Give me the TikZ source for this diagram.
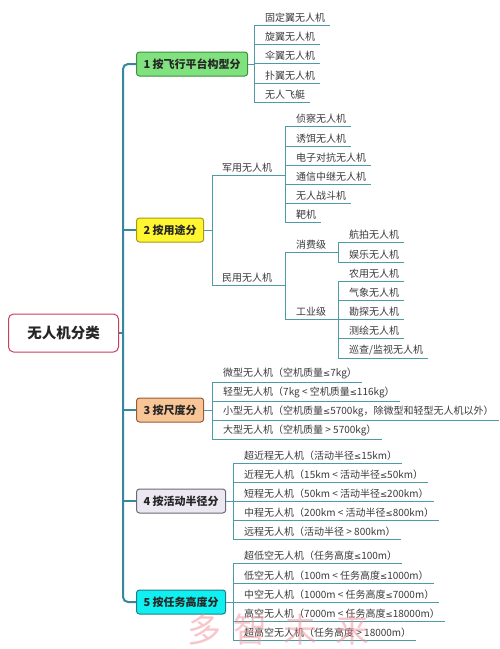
\documentclass[tikz,border=0pt]{standalone}
\usepackage{fontspec}
\setmainfont{Noto Sans CJK SC}
\newfontfamily\symf{DejaVu Sans}[Scale=0.85]
\newcommand{\lesym}{{\symf ≤}}
\definecolor{trunkc}{HTML}{35899A}
\definecolor{leafc}{HTML}{4E9BA6}
\definecolor{txtc}{HTML}{3A3A3A}
\definecolor{rootb}{HTML}{C8405C}
\definecolor{g1f}{HTML}{80E27E}\definecolor{g1b}{HTML}{3E8E3E}
\definecolor{y2f}{HTML}{FFF530}\definecolor{y2b}{HTML}{A89A10}
\definecolor{o3f}{HTML}{F8C596}\definecolor{o3b}{HTML}{9A5A38}
\definecolor{l4f}{HTML}{ECE8F2}\definecolor{l4b}{HTML}{6E6878}
\definecolor{c5f}{HTML}{10F0F0}\definecolor{c5b}{HTML}{1E7E86}
\definecolor{wmark}{HTML}{F08C96}
\tikzset{
  catbox/.style={draw, rounded corners=3pt, line width=1pt, anchor=west,
    minimum height=24pt, inner xsep=7pt, inner ysep=2pt, text=black!85,
    font=\fontsize{11}{13}\selectfont\bfseries},
  leaf/.style={anchor=south west, inner xsep=0pt, inner ysep=2.5pt, text=txtc,
    font=\fontsize{10}{12}\selectfont},
  conn/.style={draw=leafc, line width=0.95pt},
  trunkline/.style={draw=trunkc, line width=2pt, rounded corners=5pt},
}
\newcommand{\leafnode}[4]{\node[leaf] (#1) at (#2,#3) {\hspace*{11pt}#4\hspace*{5pt}};
  \draw[conn] (#1.south west) -- (#1.south east);}
\begin{document}
\begin{tikzpicture}[x=1pt,y=-1pt]
\useasboundingbox[fill=white] (0,0) rectangle (500,649);

% root
\node[draw=rootb, line width=1pt, rounded corners=5pt, fill=white, anchor=west,
  minimum width=110pt, minimum height=38pt, text=black!85,
  font=\fontsize{14.5}{16}\selectfont\bfseries] (root) at (8,333) {无人机分类};

% categories
\node[catbox, fill=g1f, draw=g1b] (c1) at (136,64) {1 按飞行平台构型分};
\node[catbox, fill=y2f, draw=y2b] (c2) at (136,230) {2 按用途分};
\node[catbox, fill=o3f, draw=o3b] (c3) at (136,410) {3 按尺度分};
\node[catbox, fill=l4f, draw=l4b] (c4) at (136,501) {4 按活动半径分};
\node[catbox, fill=c5f, draw=c5b] (c5) at (136,602) {5 按任务高度分};

% trunk
\coordinate (tr) at (123,333);
\draw[trunkline] (c1.west) -| (tr) |- (c5.west);
\draw[trunkline] (root.east) -- (tr);
\draw[trunkline] (c2.west) -- (c2.west -| tr);
\draw[trunkline] (c3.west) -- (c3.west -| tr);
\draw[trunkline] (c4.west) -- (c4.west -| tr);

% category 1
\leafnode{a1}{254}{25}{固定翼无人机}
\leafnode{a2}{254}{44}{旋翼无人机}
\leafnode{a3}{254}{63.5}{伞翼无人机}
\leafnode{a4}{254}{83}{扑翼无人机}
\leafnode{a5}{254}{102}{无人飞艇}
\draw[conn] (a1.south west) -- (a5.south west);
\draw[conn] (c1.east) -- (c1.east -| a1.south west);

% category 2
\node[leaf] (mil) at (212,175) {\hspace*{10pt}军用无人机};
\node[leaf] (civ) at (212,285) {\hspace*{10pt}民用无人机};
\draw[conn] (mil.south west) -- (civ.south west);
\draw[conn] (c2.east) -- (c2.east -| mil.south west);

\leafnode{b1}{285}{126}{侦察无人机}
\leafnode{b2}{285}{146}{诱饵无人机}
\leafnode{b3}{285}{165}{电子对抗无人机}
\leafnode{b4}{285}{184}{通信中继无人机}
\leafnode{b5}{285}{203}{无人战斗机}
\leafnode{b6}{285}{222}{靶机}
\draw[conn] (b1.south west) -- (b6.south west);
\draw[conn] (mil.south west) -- (mil.south west -| b1.south west);

\node[leaf] (xf) at (285,252) {\hspace*{11pt}消费级};
\node[leaf] (gy) at (285,319) {\hspace*{11pt}工业级};
\draw[conn] (xf.south west) -- (gy.south west);
\draw[conn] (civ.south west) -- (civ.south west -| xf.south west);

\leafnode{d1}{338}{242}{航拍无人机}
\leafnode{d2}{338}{262}{娱乐无人机}
\draw[conn] (d1.south west) -- (d2.south west);
\draw[conn] (xf.south west) -- (xf.south west -| d1.south west);

\leafnode{e1}{338}{281}{农用无人机}
\leafnode{e2}{338}{300}{气象无人机}
\leafnode{e3}{338}{319}{勘探无人机}
\leafnode{e4}{338}{338}{测绘无人机}
\leafnode{e5}{338}{358}{巡查/监视无人机}
\draw[conn] (e1.south west) -- (e5.south west);
\draw[conn] (gy.south west) -- (gy.south west -| e1.south west);

% category 3
\leafnode{f1}{212}{382}{微型无人机（空机质量\lesym 7kg）}
\leafnode{f2}{212}{401}{轻型无人机（7kg < 空机质量\lesym 116kg）}
\leafnode{f3}{212}{420}{小型无人机（空机质量\lesym 5700kg，除微型和轻型无人机以外）}
\leafnode{f4}{212}{439}{大型无人机（空机质量 > 5700kg）}
\draw[conn] (f1.south west) -- (f4.south west);
\draw[conn] (c3.east) -- (c3.east -| f1.south west);

% category 4
\leafnode{h1}{233}{463}{超近程无人机（活动半径\lesym 15km）}
\leafnode{h2}{233}{482}{近程无人机（15km < 活动半径\lesym 50km）}
\leafnode{h3}{233}{501}{短程无人机（50km < 活动半径\lesym 200km）}
\leafnode{h4}{233}{520}{中程无人机（200km < 活动半径\lesym 800km）}
\leafnode{h5}{233}{539}{远程无人机（活动半径 > 800km）}
\draw[conn] (h1.south west) -- (h5.south west);
\draw[conn] (c4.east) -- (c4.east -| h1.south west);

% category 5
\leafnode{k1}{233}{563}{超低空无人机（任务高度\lesym 100m）}
\leafnode{k2}{233}{583}{低空无人机（100m < 任务高度\lesym 1000m）}
\leafnode{k3}{233}{602}{中空无人机（1000m < 任务高度\lesym 7000m）}
\leafnode{k4}{233}{621}{高空无人机（7000m < 任务高度\lesym 18000m）}
\leafnode{k5}{233}{640}{超高空无人机（任务高度 > 18000m）}
\draw[conn] (k1.south west) -- (k5.south west);
\draw[conn] (c5.east) -- (c5.east -| k1.south west);

% watermark
\begin{scope}[opacity=0.5, text=wmark, font=\fontsize{34}{36}\selectfont]
\node (w1) at (204,630) {多};
\node (w2) at (250,630) {智};
\node (w3) at (300,630) {未};
\node (w4) at (352,630) {来};
\end{scope}
\end{tikzpicture}
\end{document}
